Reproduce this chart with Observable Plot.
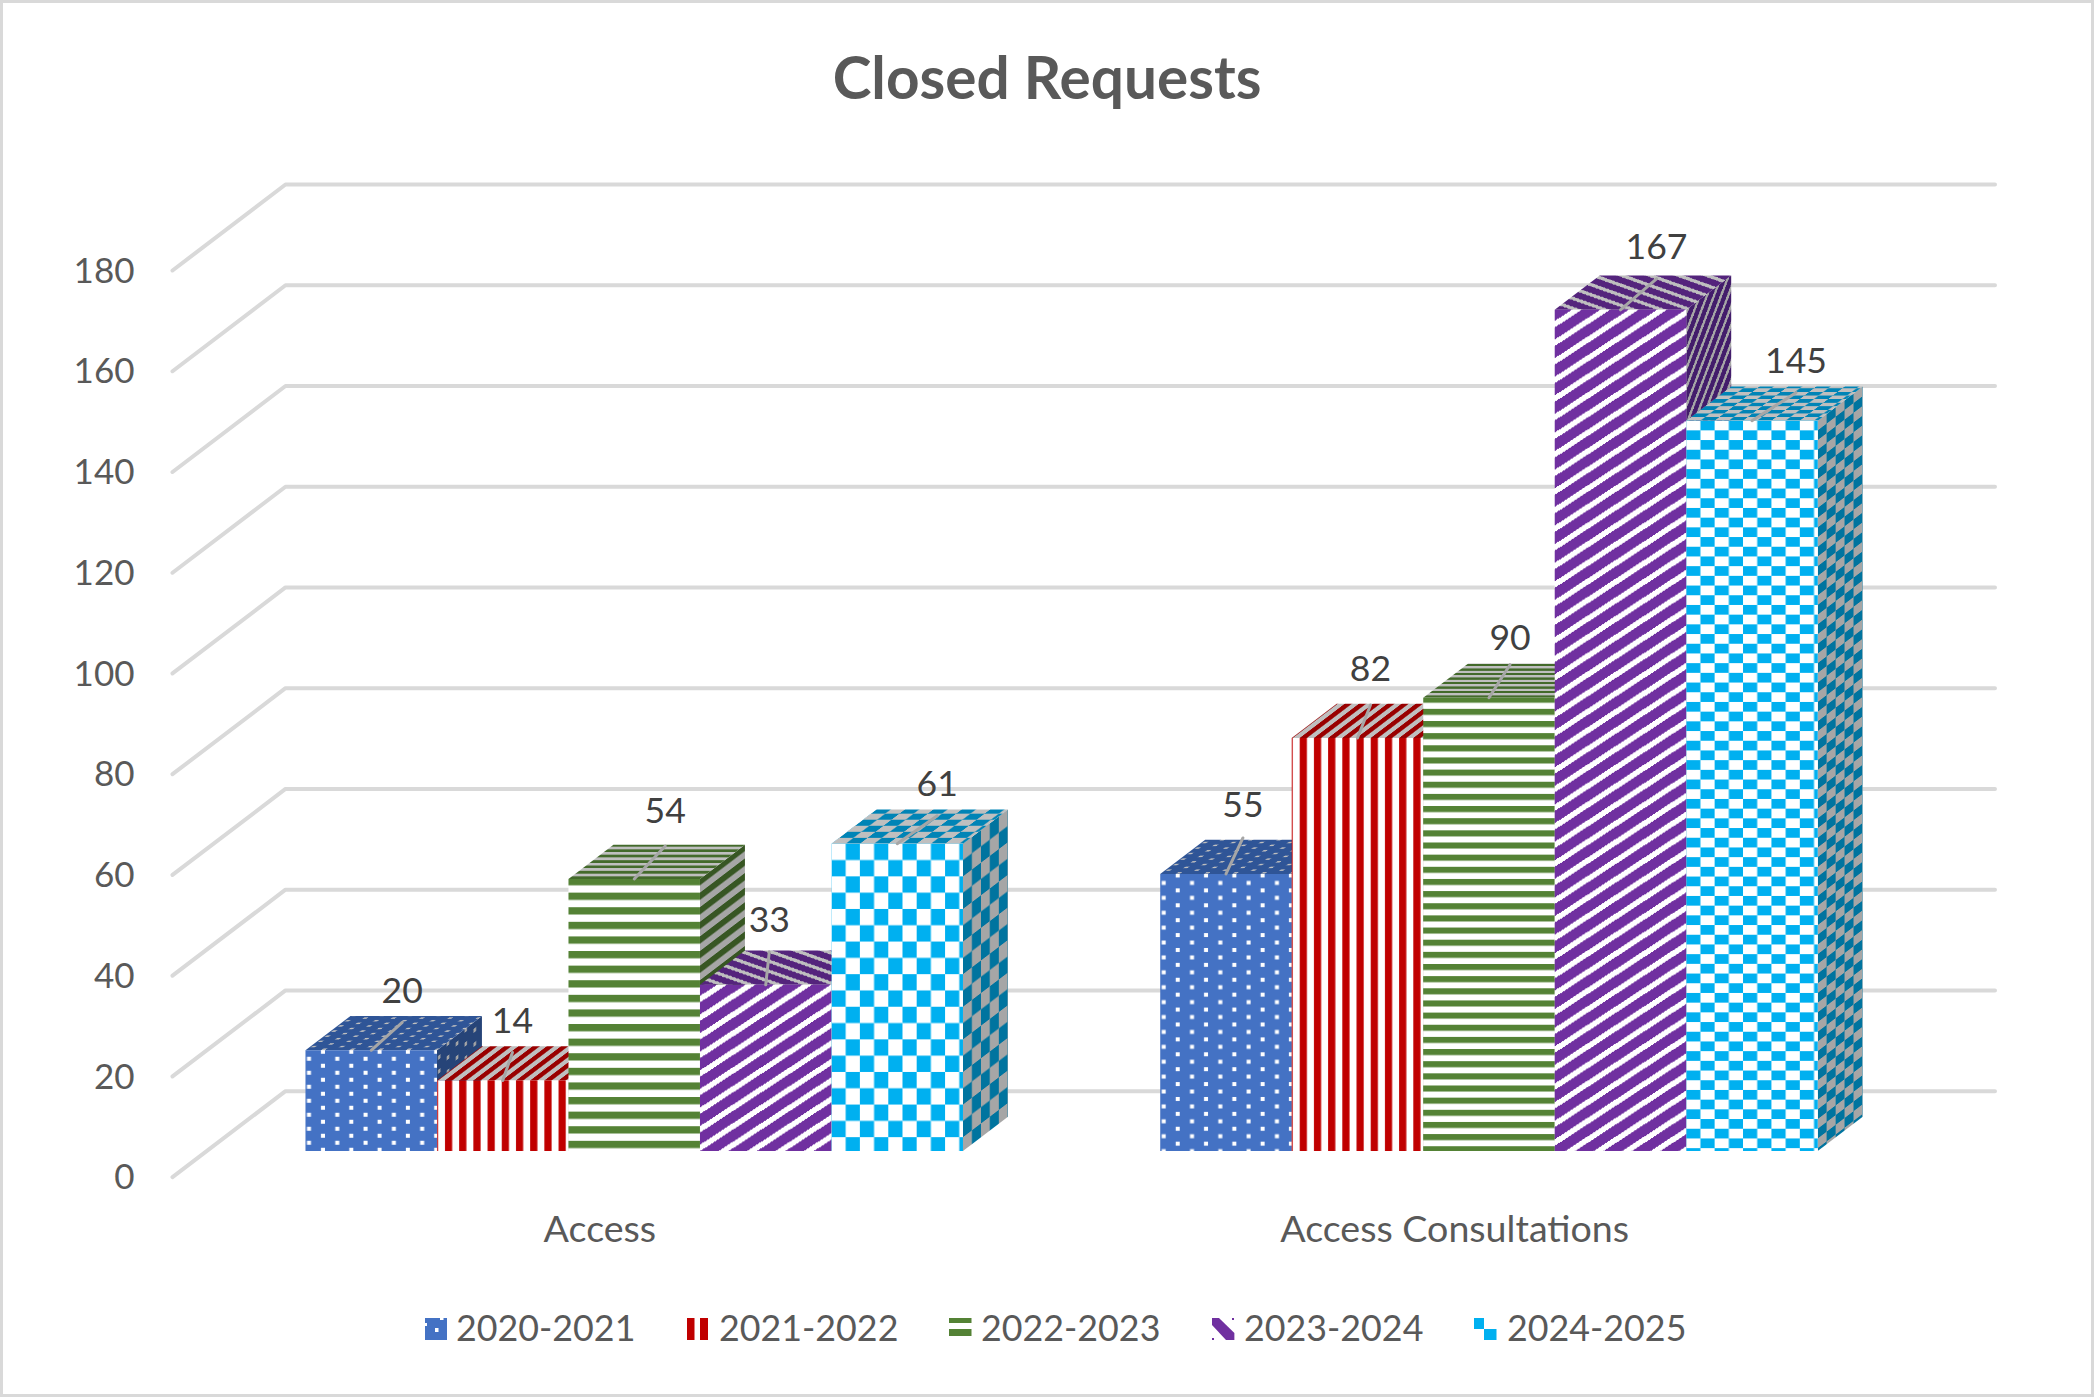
<!DOCTYPE html>
<html>
<head>
<meta charset="utf-8">
<script src="https://cdn.jsdelivr.net/npm/d3@7"></script>
<script src="https://cdn.jsdelivr.net/npm/@observablehq/plot@0.6"></script>
<style>
  html,body{margin:0;padding:0;background:#fff;}
  #page{position:relative;width:2094px;height:1397px;overflow:hidden;background:#fff;font-family:Lato,sans-serif;}
  #frame{position:absolute;inset:0;border:3px solid #D9D9D9;box-sizing:border-box;pointer-events:none;}
  #title{position:absolute;left:0;width:2094px;top:42px;text-align:center;font-size:58.5px;font-weight:700;color:#595959;line-height:68px;}
  #chart{position:absolute;left:0;top:130px;}
  .lg{position:absolute;top:1304px;height:48px;line-height:48px;font-size:35.8px;color:#595959;white-space:nowrap;}
  .sw{position:absolute;top:1318px;}
</style>
</head>
<body>
<div id="page">
  <div id="title">Closed Requests</div>
  <div id="chart"></div>
  <div id="legend"></div>
  <div id="frame"></div>
</div>
<script>
// ---- data ----
const categories = ["Access", "Access Consultations"];
const periods = ["2020-2021", "2021-2022", "2022-2023", "2023-2024", "2024-2025"];
const accessValues = [20, 14, 54, 33, 61];
const consultationValues = [55, 82, 90, 167, 145];
const yTicks = [0, 20, 40, 60, 80, 100, 120, 140, 160, 180];

// ---- styling ----
const frontColors = ["#4472C4", "#C00000", "#548235", "#7030A0", "#00B0F0"];
const topColors = ["#2F5597", "#990000", "#436A2B", "#54247C", "#0084B6"];
const sideColors = ["#264478", "#7A0000", "#375623", "#431D6B", "#00749F"];
const topLight = "#BFBFBF", sideLight = "#A6A6A6";
const tileHeights = [[14, 14.9], [8, 8], [14.6, 12.15], [18.6, 18.6], [32.6, 19.4]];
const sideSqueeze = [0.63, 0.63, 0.63, 0.35, 0.63];
const labelShift = [[0.236, 0.074, 0.236, 0.027, 0.304], [0.129, 0.099, 0.16, 0.274, 0.335]];
const labelExtra = [[0, 0, 8, 5, 0], [9, 9, 0, 3, 0]];
const leaderExtra = [[0, 0, 5, 5, 0], [8, 5, 5, 3, 0]];

// oblique projection constants (depth 0 = front of floor, 1 = back wall)
const unit = 131.5, perValue = 5.037;
const depthU = 113 / unit, depthV = 86 / perValue;
const barFront = 0.304, barBack = 0.702;
const gapHalf = 0.75, catWidth = 6.5, floorStart = -1, floorEnd = 12;
const U = (u, d) => u + d * depthU;
const V = (v, d) => v + d * depthV;

const bars = [accessValues, consultationValues].flatMap((vals, g) =>
  vals.map((value, s) => ({g, s, value, u: floorStart + catWidth * g + gapHalf + s, id: `${g}-${s}`})));

// polygons for the three visible faces of every bar, in drawing order
const faces = bars.flatMap(b => {
  const poly = (face, pts) => pts.map(([u, v, d]) => ({z: `${face}-${b.id}`, fill: `url(#${face}-${b.id})`, x: U(u, d), y: V(v, d)}));
  const l = b.u, r = b.u + 1, t = b.value, f = barFront, k = barBack;
  return [
    ...poly("side", [[r, 0, f], [r, 0, k], [r, t, k], [r, t, f]]),
    ...poly("top", [[l, t, f], [r, t, f], [r, t, k], [l, t, k]]),
    ...poly("front", [[l, 0, f], [r, 0, f], [r, t, f], [l, t, f]])
  ];
});

const grid = yTicks.flatMap(v => [
  {v, x: U(floorStart, 0), y: V(v, 0)},
  {v, x: U(floorStart, 1), y: V(v, 1)},
  {v, x: U(floorEnd, 1), y: V(v, 1)}
]);

function tile(sel, s, th, fg, bg) {
  if (s === 0) {
    sel.attr("width", 28.3).attr("height", th);
    sel.append("rect").attr("width", 28.3).attr("height", th).attr("fill", fg);
    [[17.5, 3], [3.5, 3 + th / 2]].forEach(([x, y]) =>
      sel.append("rect").attr("x", x - 2).attr("y", y - 2).attr("width", 4).attr("height", 4).attr("fill", bg));
  } else if (s === 1) {
    sel.attr("width", 14.2).attr("height", 8);
    sel.append("rect").attr("width", 14.2).attr("height", 8).attr("fill", bg);
    sel.append("rect").attr("x", 1).attr("width", 7.2).attr("height", 8).attr("fill", fg);
  } else if (s === 2) {
    sel.attr("width", 8).attr("height", th);
    sel.append("rect").attr("width", 8).attr("height", th).attr("fill", bg);
    sel.append("rect").attr("width", 8).attr("height", th / 2).attr("fill", fg);
  } else if (s === 3) {
    const w = 28.4, h = 6.5;
    sel.attr("width", w).attr("height", th);
    sel.append("rect").attr("width", w).attr("height", th).attr("fill", fg);
    [0, -th].forEach(o => sel.append("polygon")
      .attr("points", `0,${th + o} ${w},${o} ${w},${o + h} 0,${th + o + h}`)
      .attr("fill", bg).attr("shape-rendering", "crispEdges"));
  } else {
    sel.attr("width", 28.4).attr("height", th);
    sel.append("rect").attr("width", 28.4).attr("height", th).attr("fill", bg);
    sel.append("rect").attr("x", 14.2).attr("width", 14.2).attr("height", th / 2).attr("fill", fg);
    sel.append("rect").attr("y", th / 2).attr("width", 14.2).attr("height", th / 2).attr("fill", fg);
  }
}

// pattern definitions, anchored to each bar through the plot's scales
function patternDefs(index, {x, y}) {
  const defs = d3.create("svg:defs");
  const anchorShift = [[0, -1.5], [7, 0], [0, -1], [17, 0], [0, 0]];
  for (const b of bars) {
    const th = tileHeights[b.s][b.g];
    const [ox, oy] = anchorShift[b.s];
    const lx = x(U(b.u, barFront)), rx = x(U(b.u + 1, barFront)), ty = y(V(b.value, barFront));
    const depthPx = x(U(0, barBack)) - x(U(0, barFront));
    const risePx = y(V(0, barFront)) - y(V(0, barBack));
    const mk = (face, tr) => defs.append("pattern").attr("id", `${face}-${b.id}`)
      .attr("patternUnits", "userSpaceOnUse").attr("patternTransform", tr);
    tile(mk("front", `translate(${lx + ox},${ty + oy})`), b.s, th, frontColors[b.s], "#FFFFFF");
    const sy = 0.37, sk = depthPx / risePx * sy;
    tile(mk("top", `translate(${lx + ox},${ty}) matrix(1,0,${sk},${-sy},0,0)`), b.s, th, topColors[b.s], topLight);
    const sx = sideSqueeze[b.s], sh = -risePx / depthPx * sx;
    tile(mk("side", `translate(${rx},${ty + oy}) matrix(${sx},${sh},0,1,0,0)`), b.s, th, sideColors[b.s], sideLight);
  }
  return defs.node();
}

const riseValue = 28, labelRise = 59;
const leaders = bars.flatMap(b => {
  const cx = U(b.u + 0.5, barFront), top = V(b.value, barFront), sh = labelShift[b.g][b.s];
  return [{z: b.id, x: cx, y: top}, {z: b.id, x: cx + sh, y: top + (riseValue + leaderExtra[b.g][b.s]) / perValue}];
});
const labels = bars.map(b => ({
  x: U(b.u + 0.5, barFront) + labelShift[b.g][b.s],
  y: V(b.value, barFront) + (labelRise + labelExtra[b.g][b.s]) / perValue,
  text: String(b.value)
}));

const catCenters = categories.map((c, i) => floorStart + catWidth * (i + 0.5));
const catByTick = new Map(catCenters.map((t, i) => [t, categories[i]]));

const svgHeight = 1160, svgTop = 130, y180 = 270, y0 = y180 + 180 * perValue;
const chart = Plot.plot({
  width: 2094,
  height: svgHeight,
  marginLeft: 172,
  marginRight: 2094 - (172 + 14 * unit),
  marginTop: y180 - svgTop,
  marginBottom: svgTop + svgHeight - y0,
  style: {fontFamily: "Lato, sans-serif", background: "transparent", maxWidth: "none", overflow: "visible"},
  x: {domain: [-1, 13], axis: null},
  y: {domain: [0, 180], axis: null},
  color: {type: "identity"},
  marks: [
    patternDefs,
    Plot.line(grid, {x: "x", y: "y", z: "v", stroke: "#D9D9D9", strokeWidth: 4, strokeLinejoin: "miter", strokeLinecap: "round"}),
    Plot.axisY({ticks: yTicks, tickSize: 0, tickPadding: 38, dy: 1, fontSize: 35, color: "#595959", label: null, tickFormat: d => String(d)}),
    Plot.axisX({ticks: catCenters, tickSize: 0, tickPadding: 38, fontSize: 37.6, color: "#595959", label: null, tickFormat: d => catByTick.get(d)}),
    Plot.line(faces, {x: "x", y: "y", z: "z", fill: "fill", stroke: "none"}),
    Plot.line(leaders, {x: "x", y: "y", z: "z", stroke: "#A6A6A6", strokeWidth: 3}),
    Plot.text(labels, {x: "x", y: "y", text: "text", fontSize: 35.6, fill: "#404040"})
  ]
});
document.getElementById("chart").appendChild(chart);

// ---- legend ----
const swatches = [
  {x: 424.5, w: 22, svg: `<rect width="22" height="22" fill="#4472C4"/><rect x="10" y="10" width="3.5" height="4" fill="#fff"/><rect x="15" y="0" width="3.5" height="2" fill="#fff"/><rect x="0" y="5" width="2" height="3" fill="#fff"/>`},
  {x: 687, w: 21, svg: `<rect width="7.5" height="22" fill="#C00000"/><rect x="13" width="8" height="22" fill="#C00000"/>`},
  {x: 949, w: 23, svg: `<rect width="22.5" height="5" fill="#548235"/><rect y="11" width="22.5" height="7" fill="#548235"/>`},
  {x: 1212, w: 23, svg: `<polygon points="0,0 7,0 22.4,15 22.4,22 14,22 0,7" fill="#7030A0"/><rect x="20" y="0" width="2" height="2" fill="#7030A0"/><rect x="0" y="20" width="2" height="2" fill="#7030A0"/>`},
  {x: 1474, w: 23, svg: `<rect width="10" height="11" fill="#00B0F0"/><rect x="10" y="11" width="12.5" height="11" fill="#00B0F0"/>`}
];
const textLefts = [456, 719, 981, 1244, 1507];
const legend = document.getElementById("legend");
periods.forEach((p, i) => {
  const s = swatches[i];
  legend.insertAdjacentHTML("beforeend",
    `<svg class="sw" style="left:${s.x}px" width="${s.w}" height="22">${s.svg}</svg><div class="lg" style="left:${textLefts[i]}px">${p}</div>`);
});
</script>
</body>
</html>
